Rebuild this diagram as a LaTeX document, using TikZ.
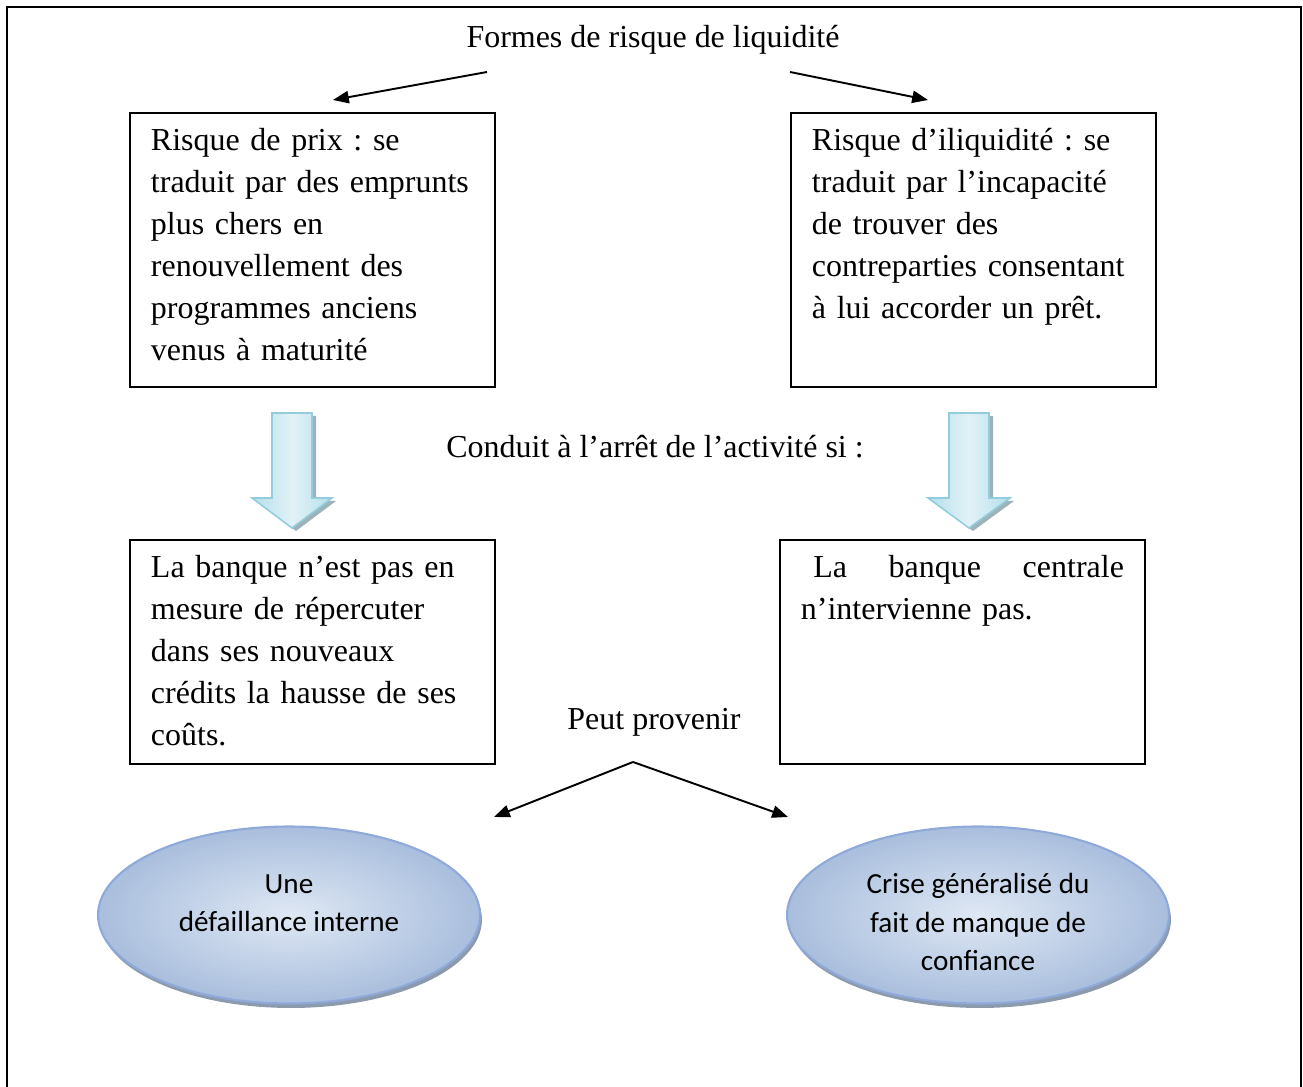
\documentclass[tikz,border=0pt]{standalone}
\usepackage{fontspec}
\setmainfont{Liberation Serif}
\newfontfamily\calibri{Carlito}
\frenchspacing
\usepackage{tikz}
\usetikzlibrary{arrows.meta, shapes.geometric, shadows, positioning}
\definecolor{bordbulle}{HTML}{8FAADA}
\definecolor{bulleclair}{HTML}{DFE8F4}
\definecolor{bullefonce}{HTML}{A9BEDD}
\definecolor{ombrebulle}{HTML}{8C9AAE}
\definecolor{bordfleche}{HTML}{93CDDD}
\definecolor{flecheclair}{HTML}{E2F2F7}
\definecolor{flechefonce}{HTML}{B5DFEB}
\definecolor{ombrefleche}{HTML}{9DB3BA}

\begin{document}
\begin{tikzpicture}[x=0.02cm, y=-0.02cm, line width=1.1pt, >={Triangle[length=9pt,width=7pt]}]
  \tikzstyle{texte}=[inner sep=0, font=\fontsize{18.2}{23.8}\selectfont]
  \tikzstyle{boite}=[draw, rectangle, anchor=north west, text width=6.46cm, align=left, inner xsep=0.42cm, inner ysep=0.32cm, text height=0.44cm, font=\fontsize{18.2}{23.8}\selectfont]
  \tikzstyle{bulle}=[ellipse, draw=bordbulle, line width=1.2pt, inner color=bulleclair, outer color=bullefonce, minimum width=7.64cm, minimum height=3.54cm, drop shadow={shadow xshift=0.04cm, shadow yshift=-0.09cm, fill=ombrebulle, opacity=1}]
  \tikzstyle{bulletexte}=[inner sep=0, align=center, font=\calibri\fontsize{16.6}{21.8}\selectfont]
  \tikzstyle{bloc}=[draw=bordfleche, line width=0.9pt, left color=flechefonce, right color=flechefonce, middle color=flecheclair, drop shadow={shadow xshift=0.08cm, shadow yshift=-0.06cm, fill=ombrefleche, opacity=1}]

  \useasboundingbox (0,0) rectangle (1303,1087);
  \draw (7,7) rectangle (1301,1120);

  % titre et formes
  \node[texte] (formes) at (653,40) {Formes de risque de liquidité};
  \node[boite, text depth=4.40cm] (prix) at (129,112) {Risque de prix : se\\traduit par des emprunts\\plus chers en\\renouvellement des\\programmes anciens\\venus à maturité};
  \node[boite, text depth=4.40cm] (iliq) at (790,112) {Risque d’iliquidité : se\\traduit par l’incapacité\\de trouver des\\contreparties consentant\\à lui accorder un prêt.};

  \coordinate (fg) at (487,72);
  \coordinate (fgb) at (333,100);
  \coordinate (fd) at (790,72);
  \coordinate (fdb) at (928,100);
  \draw[->] (fg) -- (fgb);
  \draw[->] (fd) -- (fdb);

  % fleches pleines
  \coordinate (bg) at (272,413);
  \coordinate (bd) at (949,413);
  \draw[bloc] (bg) -- ++(40,0) -- ++(0,85) -- ++(20,0) -- ++(-40,30) -- ++(-40,-30) -- ++(20,0) -- cycle;
  \draw[bloc] (bd) -- ++(40,0) -- ++(0,85) -- ++(21,0) -- ++(-41,30) -- ++(-41,-30) -- ++(21,0) -- cycle;

  \node[texte] (conduit) at (655,447) {Conduit à l’arrêt de l’activité si :};

  \node[boite, text depth=3.40cm] (banque) at (129,539) {La banque n’est pas en\\mesure de répercuter\\dans ses nouveaux\\crédits la hausse de ses\\coûts.};
  \node[boite, text depth=3.40cm] (centrale) at (779,539) {\hspace*{7pt}La\hfill banque\hfill centrale\\n’intervienne pas.};

  \node[texte] (provenir) at (654,722) {Peut provenir};

  \coordinate (pp) at (633,762);
  \coordinate (ppg) at (494,817);
  \coordinate (ppd) at (788,817);
  \draw[->] (pp) -- (ppg);
  \draw[->] (pp) -- (ppd);

  % origines
  \node[bulle] (interne) at (289,915) {};
  \node[bulle] (crise) at (978,915) {};
  \node[bulletexte, yshift=0.24cm] (interneT) at (interne.center) {Une\\défaillance interne};
  \node[bulletexte, yshift=-0.14cm] (criseT) at (crise.center) {Crise généralisé du\\fait de manque de\\confiance};

\end{tikzpicture}
\end{document}
